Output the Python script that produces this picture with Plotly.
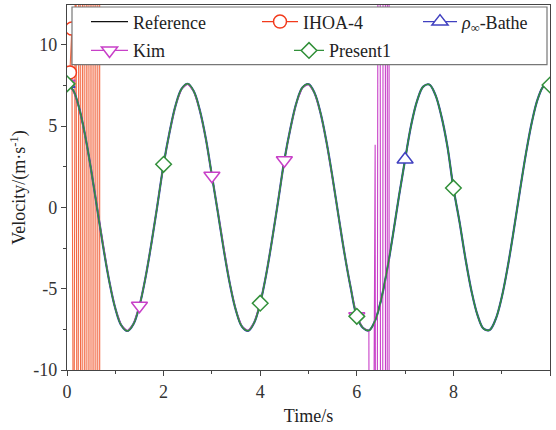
import plotly.graph_objects as go

# ---------------- data ----------------
t = [0.0, 0.125, 0.25, 0.375, 0.5, 0.625, 0.75, 0.875, 1.0, 1.125,
     1.25, 1.375, 1.5, 1.625, 1.75, 1.875, 2.0, 2.125, 2.25, 2.375,
     2.5, 2.625, 2.75, 2.875, 3.0, 3.125, 3.25, 3.375, 3.5, 3.625,
     3.75, 3.875, 4.0, 4.125, 4.25, 4.375, 4.5, 4.625, 4.75, 4.875,
     5.0, 5.125, 5.25, 5.375, 5.5, 5.625, 5.75, 5.875, 6.0, 6.125,
     6.25, 6.375, 6.5, 6.625, 6.75, 6.875, 7.0, 7.125, 7.25, 7.375,
     7.5, 7.625, 7.75, 7.875, 8.0, 8.125, 8.25, 8.375, 8.5, 8.625,
     8.75, 8.875, 9.0, 9.125, 9.25, 9.375, 9.5, 9.625, 9.75, 9.875, 10.0]

v_ref = [7.60, 7.22, 6.13, 4.43, 2.30, -0.07, -2.42, -4.54, -6.21, -7.26,
         -7.60, -7.18, -6.05, -4.32, -2.17, 0.20, 2.65, 4.65, 6.29, 7.30,
         7.60, 7.14, 5.97, 4.22, 1.95, -0.33, -2.67, -4.75, -6.36, -7.34,
         -7.59, -7.09, -5.89, -4.11, -1.92, 0.46, 2.90, 4.85, 6.43, 7.37,
         7.58, 7.04, 5.80, 3.99, 1.79, -0.60, -2.92, -4.96, -6.70, -7.40,
         -7.57, -6.99, -5.72, -3.88, -1.66, 0.73, 2.95, 5.06, 6.57, 7.43,
         7.56, 6.94, 5.63, 3.77, 1.20, -0.86, -3.16, -5.15, -6.63, -7.46,
         -7.54, -6.88, -5.54, -3.65, -1.40, 0.99, 3.28, 5.25, 6.70, 7.48, 7.53]

# IHOA-4 blows up right after the start
t_ihoa = [0.0, 0.06, 0.10, 0.14, 0.18, 0.22, 0.26, 0.30, 0.34, 0.38,
          0.42, 0.46, 0.50, 0.54, 0.58, 0.62, 0.66, 0.70]
v_ihoa = [7.6, 8.3, 11.0, -25, 30, -45, 60, -80, 110, -150,
          200, -270, 360, -480, 640, -850, 1100, -1500]
ihoa_marks = [1, 2]

# Kim follows the reference until ~6.25 s, then diverges
n_kim_ok = 51
t_kim_tail = [6.28, 6.38, 6.40, 6.47, 6.51, 6.58, 6.61, 6.66, 6.68]
v_kim_tail = [-60, 3.85, -70, 90, -120, 160, -220, 300, -400]
t_kim = t[:n_kim_ok] + t_kim_tail
v_kim = v_ref[:n_kim_ok] + v_kim_tail
kim_marks = [0, 12, 24, 36, 48]

present_marks = [0, 16, 32, 48, 64, 80]
bathe_marks = [0, 56]

x_ticks = [0, 2, 4, 6, 8, 10]
y_ticks = [-10, -5, 0, 5, 10]
y_ticktext = ["-10", "-5", "0", "5", "10"]

# ---------------- styles ----------------
FONT = "Liberation Serif"
C_REF = "#111111"
C_IHOA = "#F23A1C"
C_IHOA_BAND = "#F26A45"
C_BATHE = "#4040C0"
C_KIM = "#C840C8"
C_PRES = "#32903A"

fig = go.Figure()

# main lines
fig.add_trace(go.Scatter(x=t, y=v_ref, mode="lines", line=dict(color=C_REF, width=1.2, shape="spline"),
                         showlegend=False, hoverinfo="skip"))
fig.add_trace(go.Scatter(x=t_ihoa, y=v_ihoa, mode="lines", line=dict(color=C_IHOA_BAND, width=1.1),
                         showlegend=False, hoverinfo="skip"))
fig.add_trace(go.Scatter(x=t, y=v_ref, mode="lines", line=dict(color=C_BATHE, width=2.2, shape="spline"),
                         showlegend=False, hoverinfo="skip"))
fig.add_trace(go.Scatter(x=t_kim, y=v_kim, mode="lines", line=dict(color=C_KIM, width=1.1),
                         showlegend=False, hoverinfo="skip"))
fig.add_trace(go.Scatter(x=t, y=v_ref, mode="lines", line=dict(color=C_PRES, width=1.5, shape="spline"),
                         showlegend=False, hoverinfo="skip"))

# markers
def mk(xs, ys, idx, sym, col, size):
    return go.Scatter(x=[xs[i] for i in idx], y=[ys[i] for i in idx], mode="markers",
                      marker=dict(symbol=sym, size=size, color="white",
                                  line=dict(color=col, width=1.5)),
                      showlegend=False, hoverinfo="skip")

fig.add_trace(mk(t_ihoa, v_ihoa, ihoa_marks, "circle", C_IHOA, 13))
fig.add_trace(mk(t, v_ref, bathe_marks, "triangle-up", C_BATHE, 14))
fig.add_trace(mk(t_kim, v_kim, kim_marks, "triangle-down", C_KIM, 14))
fig.add_trace(mk(t, v_ref, present_marks, "diamond", C_PRES, 12))

# legend entries (each in its own legend for exact placement)
def leg(name, col, sym, legend_id, size):
    return go.Scatter(x=[None], y=[None], name=name, legend=legend_id,
                      mode="lines" if sym is None else "lines+markers",
                      line=dict(color=col, width=1.3),
                      marker=dict(symbol=sym or "circle", size=size, color="white",
                                  line=dict(color=col, width=1.5)))

fig.add_trace(leg("Reference", C_REF, None, "legend", 10))
fig.add_trace(leg("IHOA-4", C_IHOA, "circle", "legend2", 13))
fig.add_trace(leg("<i>ρ</i><sub>∞</sub>-Bathe", C_BATHE, "triangle-up", "legend3", 14))
fig.add_trace(leg("Kim", C_KIM, "triangle-down", "legend4", 14))
fig.add_trace(leg("Present1", C_PRES, "diamond", "legend5", 12))

PLOT_L, PLOT_R, PLOT_T, PLOT_B = 67, 550, 3, 370
def px2x(px):
    return (px - PLOT_L) / (PLOT_R - PLOT_L)
def px2y(py):
    return (PLOT_B - py) / (PLOT_B - PLOT_T)

def legcfg(xpx, ypx, iw):
    return dict(x=px2x(xpx), y=px2y(ypx), xanchor="left", yanchor="middle",
                bgcolor="rgba(0,0,0,0)", borderwidth=0, itemwidth=iw,
                font=dict(family=FONT, size=18, color="#222"))

axis_common = dict(showgrid=False, zeroline=False, showline=True, linecolor="#444", linewidth=1.3,
                   mirror=True, ticks="outside", ticklen=5, tickwidth=1.2, tickcolor="#444",
                   tickfont=dict(family=FONT, size=18, color="#333"),
                   title_font=dict(family=FONT, size=18, color="#222"))

fig.update_layout(
    width=556, height=430,
    margin=dict(l=PLOT_L, r=556 - PLOT_R, t=PLOT_T, b=430 - PLOT_B),
    plot_bgcolor="white", paper_bgcolor="white",
    xaxis=dict(range=[0, 10], tickvals=x_ticks, ticktext=[str(v) for v in x_ticks],
               minor=dict(dtick=1, tick0=0, ticks="outside", ticklen=3, tickcolor="#444"),
               title=dict(text="Time/s", standoff=8), **axis_common),
    yaxis=dict(range=[-10, 12.45], tickvals=y_ticks, ticktext=y_ticktext,
               minor=dict(dtick=2.5, tick0=0, ticks="outside", ticklen=3, tickcolor="#444"),
               title=dict(text="Velocity/(m·s<sup>-1</sup>)", standoff=2), **axis_common),
    legend=legcfg(86, 20, 37),
    legend2=legcfg(257, 20, 36),
    legend3=legcfg(418, 20, 34),
    legend4=legcfg(86, 49, 37),
    legend5=legcfg(289, 49, 30),
    shapes=[dict(type="rect", xref="paper", yref="paper",
                 x0=px2x(72), x1=px2x(547), y0=px2y(63), y1=px2y(5),
                 fillcolor="white", line=dict(color="#777", width=1.2), layer="above")],
)

fig.write_html("out.html")
